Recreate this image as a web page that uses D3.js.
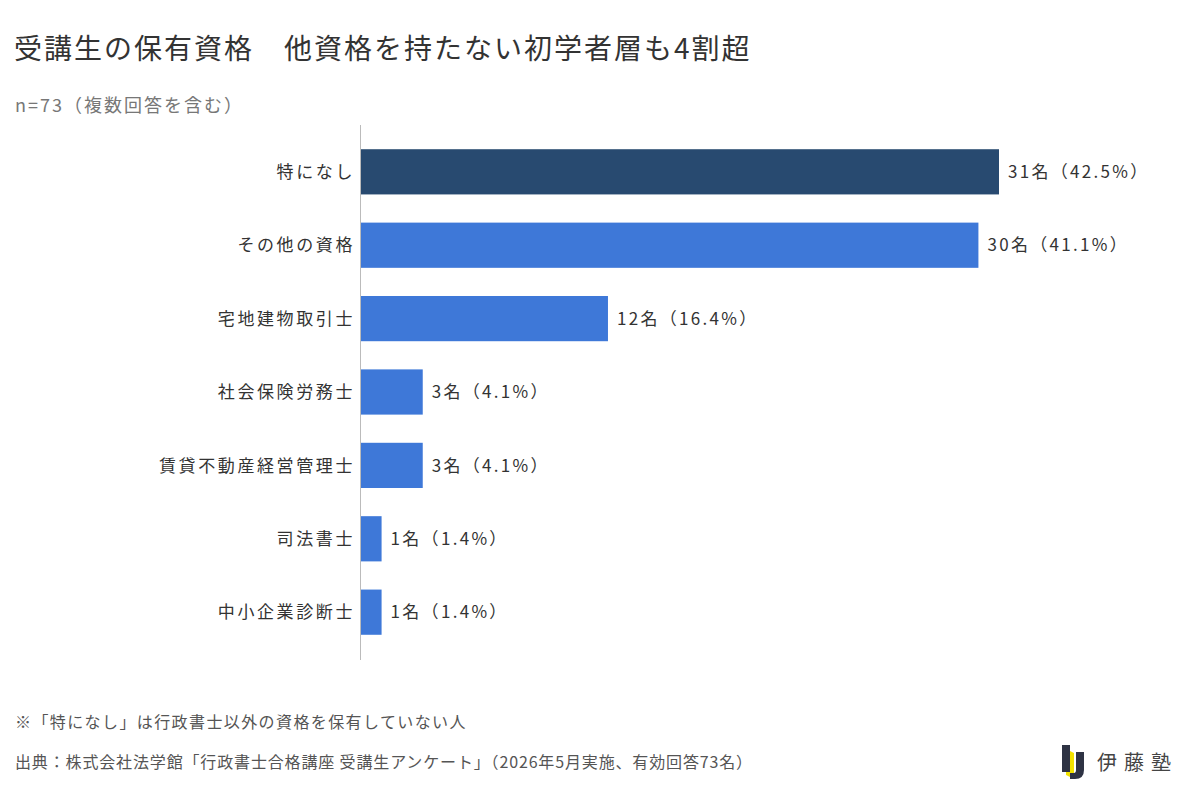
<!DOCTYPE html>
<html>
<head>
<meta charset="utf-8">
<script src="https://cdn.jsdelivr.net/npm/d3@7"></script>
<style>
  body { margin: 0; background: #fff; }
  svg { display: block; font-family: "Noto Sans CJK JP", "Noto Sans", sans-serif; }
</style>
</head>
<body>
<script>
const categories = ['特になし', 'その他の資格', '宅地建物取引士', '社会保険労務士', '賃貸不動産経営管理士', '司法書士', '中小企業診断士']
const counts = [31, 30, 12, 3, 3, 1, 1]
const percents = ['42.5', '41.1', '16.4', '4.1', '4.1', '1.4', '1.4']

const title = '受講生の保有資格　他資格を持たない初学者層も4割超'
const subtitle = 'n=73（複数回答を含む）'
const note = '※「特になし」は行政書士以外の資格を保有していない人'
const source = '出典：株式会社法学館「行政書士合格講座 受講生アンケート」（2026年5月実施、有効回答73名）'

let width = 1200
let height = 796
let margin = { top: 125, bottom: 137, left: 361, right: 201 }

const data = categories.map((c, i) => ({ name: c, count: counts[i], pct: percents[i] }))

const svg = d3.select('body')
  .append('svg')
  .attr('width', width)
  .attr('height', height)

svg.append('rect').attr('width', width).attr('height', height).attr('fill', '#fff')

// titles
svg.append('text')
  .attr('x', 14).attr('y', 59)
  .attr('font-size', 28)
  .attr('letter-spacing', 2)
  .attr('fill', '#333')
  .text(title)

svg.append('text')
  .attr('x', 15).attr('y', 112)
  .attr('font-size', 18)
  .attr('letter-spacing', 2)
  .attr('fill', '#777')
  .text(subtitle)

const x = d3.scaleLinear()
  .domain([0, 31])
  .range([margin.left, 999])

const y = d3.scaleBand()
  .domain(categories)
  .range([margin.top, height - margin.bottom])
  .paddingInner(0.384)
  .paddingOuter(0.33)

// bars
svg.append('g')
  .selectAll('rect')
  .data(data)
  .enter().append('rect')
  .attr('x', x(0))
  .attr('y', d => y(d.name))
  .attr('width', d => x(d.count) - x(0))
  .attr('height', y.bandwidth())
  .attr('fill', (d, i) => i === 0 ? '#284a70' : '#3e78d8')

// axis line
svg.append('line')
  .attr('x1', margin.left - 0.5).attr('x2', margin.left - 0.5)
  .attr('y1', margin.top).attr('y2', 660)
  .attr('stroke', '#bbb')
  .attr('stroke-width', 1)

// category labels
svg.append('g')
  .selectAll('text')
  .data(data)
  .enter().append('text')
  .attr('x', margin.left - 6)
  .attr('y', d => y(d.name) + y.bandwidth() / 2)
  .attr('dy', '0.36em')
  .attr('text-anchor', 'end')
  .attr('font-size', 17)
  .attr('letter-spacing', 2.6)
  .attr('fill', '#333')
  .text(d => d.name)

// value labels
svg.append('g')
  .selectAll('text')
  .data(data)
  .enter().append('text')
  .attr('x', d => x(d.count) + 9)
  .attr('y', d => y(d.name) + y.bandwidth() / 2)
  .attr('dy', '0.36em')
  .attr('font-size', 17)
  .attr('letter-spacing', 2.3)
  .attr('fill', '#333')
  .text(d => `${d.count}名（${d.pct}%）`)

// footnotes
svg.append('text')
  .attr('x', 15).attr('y', 728)
  .attr('font-size', 16)
  .attr('letter-spacing', 1.4)
  .attr('fill', '#555')
  .text(note)

svg.append('text')
  .attr('x', 15).attr('y', 768)
  .attr('font-size', 16)
  .attr('letter-spacing', 0.85)
  .attr('fill', '#555')
  .text(source)

// logo
const logo = svg.append('g')
logo.append('path')
  .attr('d', 'M1066,749 L1074,753 L1074,779 L1066,775 Z')
  .attr('fill', '#f2e200')
logo.append('rect')
  .attr('x', 1062).attr('y', 745).attr('width', 8).attr('height', 27)
  .attr('fill', '#2e3344')
logo.append('path')
  .attr('d', 'M1076,752 L1084,752 L1084,770 Q1084,779 1075,779 L1070,779 L1070,773 L1074,773 Q1076,773 1076,770 Z')
  .attr('fill', '#2e3344')
logo.append('text')
  .attr('x', 1097).attr('y', 770)
  .attr('font-size', 20)
  .attr('letter-spacing', 7)
  .attr('fill', '#444')
  .text('伊藤塾')
</script>
</body>
</html>
